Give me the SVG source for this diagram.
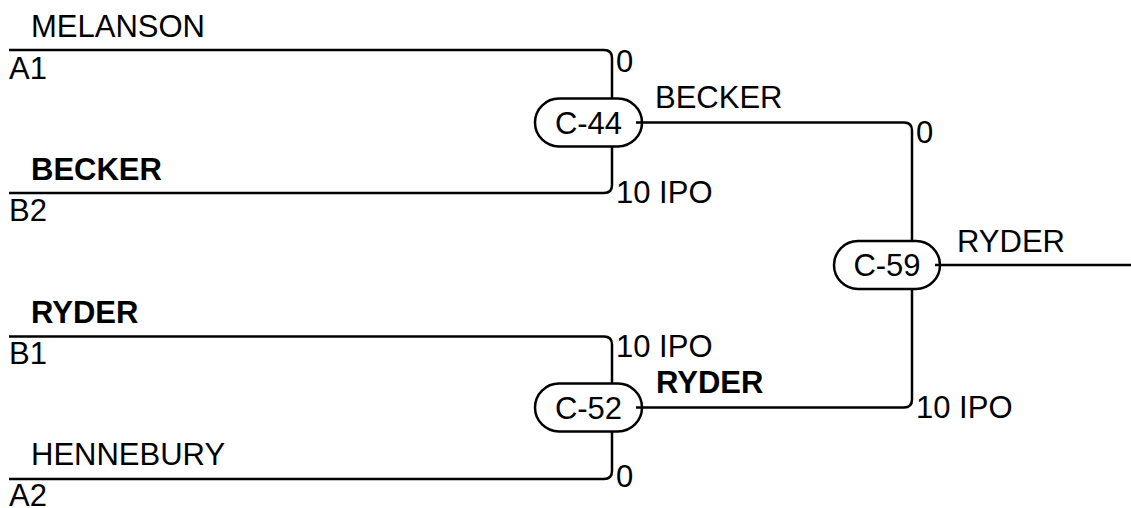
<svg xmlns="http://www.w3.org/2000/svg" width="1131" height="508" viewBox="0 0 1131 508">
<style>
text{font-family:"Liberation Sans",Arial,sans-serif;font-size:31px;fill:#000}
.b{font-weight:bold}
.ln{fill:none;stroke:#000;stroke-width:2.5}
.pill{fill:#fff;stroke:#000;stroke-width:2.5}
</style>
<rect width="1131" height="508" fill="#fff"/>
<g id="entrants">
<text x="31" y="37">MELANSON</text><text x="9" y="79">A1</text>
<text class="b" x="31" y="180">BECKER</text><text x="9" y="221">B2</text>
<text class="b" x="31" y="323">RYDER</text><text x="9" y="364">B1</text>
<text x="31" y="465">HENNEBURY</text><text x="9" y="506">A2</text>
</g>
<g id="C-44">
<rect class="pill" x="535" y="98.5" width="107" height="48" rx="24"/>
<text x="588.5" y="133.5" text-anchor="middle">C-44</text>
<text x="616" y="72">0</text>
<text x="616" y="203">10 IPO</text>
<text x="655" y="108">BECKER</text>
</g>
<g id="C-52">
<rect class="pill" x="535" y="383.5" width="107" height="48" rx="24"/>
<text x="588.5" y="418.5" text-anchor="middle">C-52</text>
<text x="616" y="357">10 IPO</text>
<text x="616" y="487">0</text>
<text class="b" x="656" y="393">RYDER</text>
</g>
<g id="C-59">
<rect class="pill" x="834" y="241" width="106" height="48" rx="24"/>
<text x="887" y="276" text-anchor="middle">C-59</text>
<text x="916" y="143">0</text>
<text x="916" y="418">10 IPO</text>
<text x="957" y="252">RYDER</text>
</g>
<g id="connectors">
<path class="ln" d="M9 50 H604 Q612 50 612 58 V98.5"/>
<path class="ln" d="M9 193 H604 Q612 193 612 185 V146.5"/>
<path class="ln" d="M9 336.5 H604 Q612 336.5 612 344.5 V383.5"/>
<path class="ln" d="M9 479 H604 Q612 479 612 471 V431.5"/>
<path class="ln" d="M636 122.5 H904 Q912 122.5 912 130.5 V241"/>
<path class="ln" d="M636 407.5 H904 Q912 407.5 912 399.5 V289"/>
<path class="ln" d="M935 265 H1131"/>
</g>
</svg>
